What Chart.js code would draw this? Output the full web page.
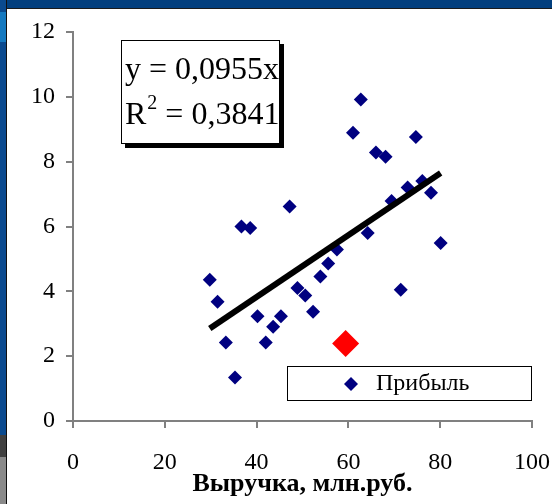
<!DOCTYPE html>
<html>
<head>
<meta charset="utf-8">
<script src="https://cdn.jsdelivr.net/npm/chart.js@4"></script>
<style>
  html, body { margin: 0; padding: 0; background: #fff; }
  #wrap { position: relative; width: 552px; height: 504px; overflow: hidden; background: #fff; }
  #wrap div { position: absolute; }
  .top { left: 0; top: 0; width: 552px; height: 8px; background: #023f7e; }
  .topLine { left: 0; top: 8px; width: 552px; height: 1px; background: #1a1a1a; }
  .side { left: 0; top: 0; width: 6px; height: 435px; background: #0a4a8f; }
  .sideLight { left: 0; top: 12px; width: 6px; height: 30px; background: #1479c0; }
  .sideDark { left: 0; top: 435px; width: 6px; height: 22px; background: #404040; }
  .sideGrey { left: 0; top: 457px; width: 6px; height: 47px; background: #8a8a8a; }
  .sideLine { left: 6px; top: 0; width: 1px; height: 504px; background: #111; }
  canvas { position: absolute; left: 0; top: 0; }
</style>
</head>
<body>
<div id="wrap">
  <div class="top"></div>
  <div class="topLine"></div>
  <div class="side"></div>
  <div class="sideLight"></div>
  <div class="sideDark"></div>
  <div class="sideGrey"></div>
  <div class="sideLine"></div>
  <canvas id="chart" width="552" height="504"></canvas>
</div>
<script>
// revenue (x) and profit (y)
const revenue = [29.8, 31.5, 33.3, 35.3, 36.7, 38.6, 40.2, 42.0, 43.6, 45.3,
  47.2, 48.9, 50.6, 52.3, 53.9, 55.6, 57.5, 61.0, 62.7, 64.2,
  66.0, 68.1, 69.4, 71.4, 72.9, 74.7, 76.1, 78.0, 80.1];
const profit = [4.36, 3.68, 2.42, 1.34, 6.00, 5.95, 3.23, 2.42, 2.91, 3.23,
  6.62, 4.10, 3.87, 3.37, 4.46, 4.86, 5.29, 8.89, 9.92, 5.80,
  8.28, 8.15, 6.79, 4.05, 7.20, 8.76, 7.40, 7.04, 5.49];

// the highlighted (red) point
const markedRevenue = [59.4];
const markedProfit = [2.39];

// trend line ends
const trendRevenue = [29.8, 80.1];
const trendProfit = [2.85, 7.65];

const xTicks = [0, 20, 40, 60, 80, 100];
const yTicks = [0, 2, 4, 6, 8, 10, 12];

const seriesName = "Прибыль";
const xTitle = "Выручка, млн.руб.";
const equation = "y = 0,0955x";
const rSquared = "0,3841";

const serif = "'Liberation Serif', 'Times New Roman', serif";

function toPoints(xs, ys) {
  return xs.map((x, i) => ({ x: x, y: ys[i] }));
}

const overlay = {
  id: "overlay",
  afterDatasetsDraw(chart) {
    const ctx = chart.ctx;
    ctx.save();

    // equation box with shadow
    ctx.fillStyle = "#000";
    ctx.fillRect(125, 44, 159, 104);
    ctx.fillStyle = "#fff";
    ctx.fillRect(121, 40, 159, 104);
    ctx.strokeStyle = "#000";
    ctx.lineWidth = 1;
    ctx.strokeRect(121.5, 40.5, 158, 103);

    ctx.fillStyle = "#000";
    ctx.textBaseline = "middle";
    ctx.textAlign = "left";
    ctx.font = "32px " + serif;
    ctx.fillText(equation, 125, 71);
    let x = 125;
    ctx.fillText("R", x, 116);
    x += ctx.measureText("R").width + 1;
    ctx.font = "20px " + serif;
    ctx.fillText("2", x, 104);
    x += ctx.measureText("2").width;
    ctx.font = "32px " + serif;
    ctx.fillText(" = " + rSquared, x, 116);

    // legend box
    const right = chart.chartArea.right;
    ctx.fillStyle = "#fff";
    ctx.fillRect(287, 366, right - 287, 35);
    ctx.strokeStyle = "#000";
    ctx.strokeRect(287.5, 366.5, right - 288, 34);
    const ds = chart.data.datasets[1];
    ctx.fillStyle = ds.backgroundColor;
    ctx.beginPath();
    ctx.moveTo(351, 384 - 7);
    ctx.lineTo(351 + 7, 384);
    ctx.lineTo(351, 384 + 7);
    ctx.lineTo(351 - 7, 384);
    ctx.closePath();
    ctx.fill();
    ctx.fillStyle = "#000";
    ctx.font = "24px " + serif;
    ctx.fillText(ds.label, 376, 384);

    ctx.restore();
  }
};

new Chart(document.getElementById("chart"), {
  type: "scatter",
  data: {
    datasets: [
      {
        label: "trend",
        type: "line",
        data: toPoints(trendRevenue, trendProfit),
        borderColor: "#000",
        borderWidth: 6,
        pointRadius: 0,
        showLine: true,
        fill: false,
        order: 0
      },
      {
        label: seriesName,
        data: toPoints(revenue, profit),
        pointStyle: "rectRot",
        pointRadius: 7,
        backgroundColor: "#000080",
        borderColor: "#000080",
        borderWidth: 0,
        order: 1
      },
      {
        label: "marked",
        data: toPoints(markedRevenue, markedProfit),
        pointStyle: "rectRot",
        pointRadius: 13.5,
        backgroundColor: "#ff0000",
        borderColor: "#ff0000",
        borderWidth: 0,
        order: 2
      }
    ]
  },
  options: {
    responsive: false,
    animation: false,
    layout: { padding: { top: 32, right: 20, bottom: 0, left: 0 } },
    plugins: {
      legend: { display: false },
      tooltip: { enabled: false }
    },
    scales: {
      x: {
        type: "linear",
        min: 0,
        max: 100,
        afterBuildTicks: (s) => { s.ticks = xTicks.map((v) => ({ value: v })); },
        afterFit: (s) => {
          s.height = 83;
          s.paddingLeft = 0;
          s.paddingRight = 0;
        },
        ticks: { font: { family: serif, size: 24 }, color: "#000", padding: 20, maxRotation: 0 },
        grid: { drawOnChartArea: false, tickLength: 7, color: "#808080", lineWidth: 2 },
        border: { color: "#808080", width: 2 },
        title: {
          display: true,
          text: xTitle,
          font: { family: serif, size: 26, weight: "bold" },
          color: "#000",
          padding: { top: 0, bottom: 4 }
        }
      },
      y: {
        min: 0,
        max: 12,
        afterBuildTicks: (s) => { s.ticks = yTicks.map((v) => ({ value: v })); },
        afterFit: (s) => { s.width = 73; },
        ticks: { font: { family: serif, size: 24 }, color: "#000", padding: 11 },
        grid: { drawOnChartArea: false, tickLength: 7, color: "#808080", lineWidth: 2 },
        border: { color: "#808080", width: 2 }
      }
    }
  },
  plugins: [overlay]
});
</script>
</body>
</html>
